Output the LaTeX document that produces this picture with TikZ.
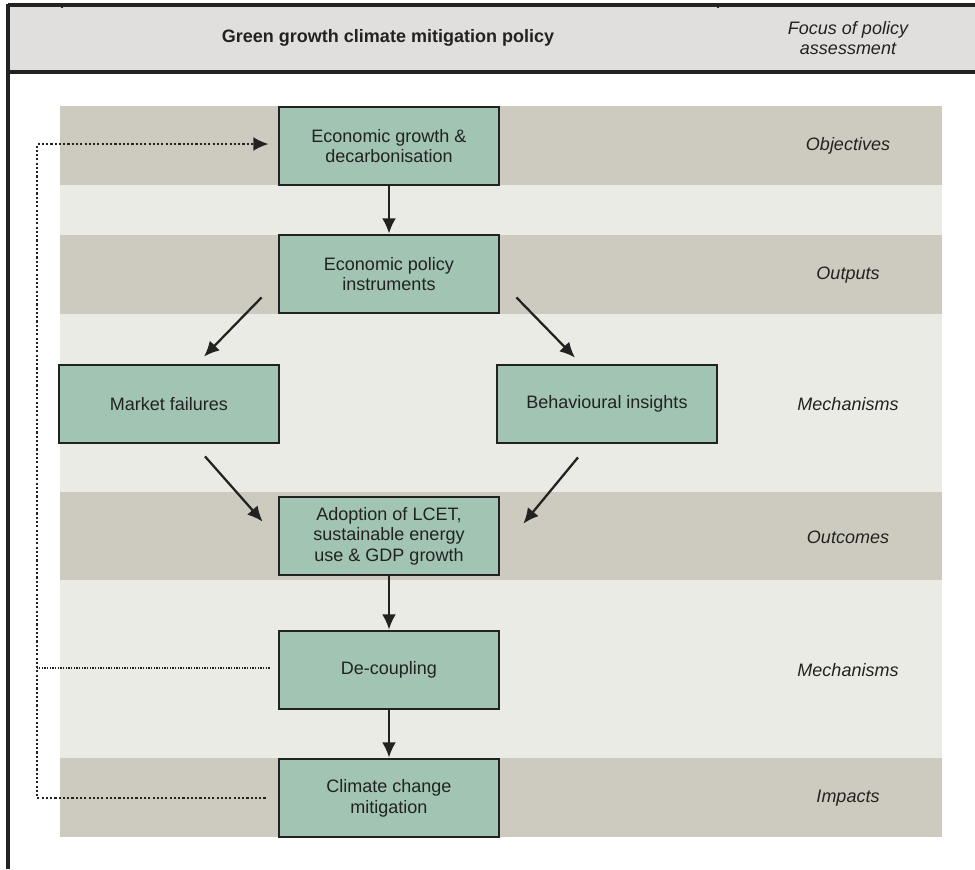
\documentclass[tikz,border=0pt]{standalone}
\usepackage{fontspec}
\setmainfont{Liberation Sans}
\usepackage{xcolor}
\definecolor{BoxGreen}{HTML}{A2C4B3}
\definecolor{BandDark}{HTML}{CDCBBF}
\definecolor{BandLight}{HTML}{EBEBE6}
\definecolor{HeadGray}{HTML}{E0DFDD}
\definecolor{InkGray}{HTML}{222222}
\usetikzlibrary{arrows.meta, calc}

\begin{document}
\begin{tikzpicture}[x=0.75pt, y=-0.75pt, >={Latex[length=11.5pt, width=10.5pt]},
  stage/.style={draw=InkGray, line width=2.1pt, fill=BoxGreen, minimum width=165pt,
    minimum height=58.5pt, inner sep=2pt, align=center, text=InkGray,
    font=\fontsize{13.5}{15.5}\selectfont},
  focus/.style={align=center, text=InkGray, font=\fontsize{13.5}{15.5}\selectfont\itshape},
  flow/.style={->, line width=1.7pt, draw=InkGray},
  feedback/.style={line width=1.7pt, dash pattern=on 1.6pt off 1.6pt, draw=InkGray},
  feedthin/.style={line width=1pt, dash pattern=on 1pt off 1pt, draw=InkGray}]
  % canvas in pixels of the original (y downwards)
  \useasboundingbox (0,0) rectangle (975,869);
  \def\bandL{60}
  \def\bandR{942}

  % Header strip
  \fill[HeadGray] (8,5) rectangle (975,72);
  \draw[InkGray, line width=2.3pt] (8,5) -- (975,5);
  \draw[InkGray, line width=2.3pt] (8,72) -- (975,72);
  \draw[InkGray, line width=2.3pt] (8,4) -- (8,869);
  \draw[InkGray, line width=1pt] (62,3) -- (62,8);
  \draw[InkGray, line width=1pt] (718,3) -- (718,8);
  \node[text=InkGray, font=\fontsize{13.5}{15.5}\selectfont\bfseries] (title) at (388,38)
    {Green growth climate mitigation policy};
  \node[focus] (focushead) at (848,38) {Focus of policy\\assessment};

  % Background bands (dark / light)
  \fill[BandDark]  (\bandL,106) rectangle (\bandR,185);
  \fill[BandLight] (\bandL,185) rectangle (\bandR,235);
  \fill[BandDark]  (\bandL,235) rectangle (\bandR,314);
  \fill[BandLight] (\bandL,314) rectangle (\bandR,492);
  \fill[BandDark]  (\bandL,492) rectangle (\bandR,580);
  \fill[BandLight] (\bandL,580) rectangle (\bandR,758);
  \fill[BandDark]  (\bandL,758) rectangle (\bandR,837);

  % Stages
  \node[stage] (econ)    at (389,146) {Economic growth \&\\decarbonisation};
  \node[stage] (econpol) at (389,274) {Economic policy\\instruments};
  \node[stage] (market)  at (169,404) {Market failures};
  \node[stage] (behav)   at (607,404) {Behavioural insights};
  \node[stage] (adopt)   at (389,536) {Adoption of LCET,\\sustainable energy\\use \& GDP growth};
  \node[stage] (decoup)  at (389,670) {De-coupling};
  \node[stage] (climate) at (389,798) {Climate change\\mitigation};

  % Focus column
  \node[focus] (objectives) at (848,146) {Objectives};
  \node[focus] (outputs)    at (848,275) {Outputs};
  \node[focus] (mechA)      at (848,404) {Mechanisms};
  \node[focus] (outcomes)   at (848,537) {Outcomes};
  \node[focus] (mechB)      at (848,670) {Mechanisms};
  \node[focus] (impacts)    at (848,798) {Impacts};

  % Flow arrows
  \draw[flow] (econ) -- (econpol);
  \draw[flow] ($(econpol.south west)+(-16,-17)$) -- ($(market.north)+(35,-7)$);
  \draw[flow] ($(econpol.south east)+(16,-17)$) -- ($(behav.north)+(-32,-6)$);
  \draw[flow] ($(market.south)+(36,12)$) -- ($(adopt.north west)+(-15,26)$);
  \draw[flow] ($(behav.south)+(-29,13)$) -- ($(adopt.north east)+(23,28)$);
  \draw[flow] (adopt) -- (decoup);
  \draw[flow] (decoup) -- (climate);

  % Feedback loop (dotted)
  \coordinate (fbx) at (37,146);
  \draw[feedback, -{Latex[length=11.5pt, width=10.5pt]}]
    ($(climate.west)+(-12,0)$) -- (fbx |- climate.west) |- ($(econ.west)+(-9,-2)$);
  \draw[feedthin] ($(decoup.west)+(-8,-2)$) -- (fbx |- {$(decoup.west)+(0,-2)$});
\end{tikzpicture}
\end{document}
